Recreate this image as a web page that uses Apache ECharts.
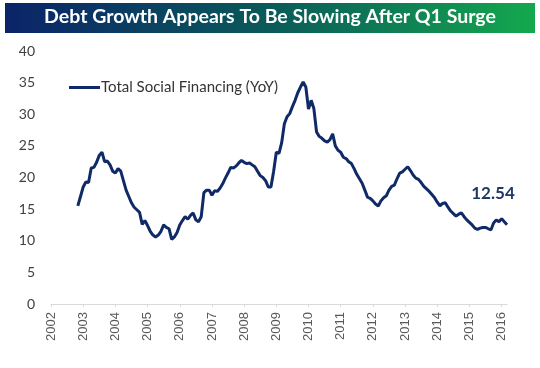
<!DOCTYPE html>
<html>
<head>
<meta charset="utf-8">
<script src="https://cdn.jsdelivr.net/npm/echarts@6/dist/echarts.min.js"></script>
<style>html,body{margin:0;padding:0;background:#fff}#c{width:540px;height:368px}</style>
</head>
<body>
<div id="c"></div>
<script>
var title = 'Debt Growth Appears To Be Slowing After Q1 Surge';
var seriesName = 'Total Social Financing (YoY)';
var startYear = 2002, startMonth = 11; // first observation: Nov 2002, monthly
var tsfValues = [
15.5,17.0,18.5,19.3,19.2,21.5,21.6,22.4,23.5,24.0,
22.5,22.6,22.0,21.0,20.7,21.4,21.0,19.5,18.0,17.0,
16.0,15.3,14.9,14.5,12.6,13.2,12.4,11.5,10.9,10.6,
10.9,11.5,12.5,12.1,11.9,10.2,10.6,11.3,12.5,13.2,
13.8,13.4,14.0,14.4,13.3,13.0,13.8,17.6,18.0,18.0,
17.2,17.9,17.8,18.3,19.0,19.9,20.7,21.6,21.5,21.8,
22.3,22.7,22.4,22.2,22.3,22.0,21.7,21.0,20.3,20.0,
19.5,18.5,18.5,21.0,24.0,23.8,25.5,28.5,29.6,30.1,
31.2,32.2,33.4,34.3,35.1,34.3,30.8,32.2,30.9,27.2,
26.5,26.2,25.8,25.6,26.0,26.9,25.0,24.3,24.0,23.2,
23.0,22.5,22.2,21.4,20.5,19.8,19.1,18.0,16.9,16.7,
16.3,15.8,15.5,16.3,16.8,17.1,18.0,18.6,18.8,19.8,
20.7,20.9,21.3,21.7,21.1,20.4,19.9,19.7,19.2,18.6,
18.2,17.8,17.3,16.8,16.1,15.5,15.9,16.0,15.3,14.7,
14.3,13.9,14.2,14.4,13.8,13.3,12.9,12.5,12.0,11.8,
12.0,12.1,12.1,11.9,11.7,12.8,13.3,13.0,13.5,13.0,
12.54
];
var yTicks = [0,5,10,15,20,25,30,35,40];
var xYears = [2002,2003,2004,2005,2006,2007,2008,2009,2010,2011,2012,2013,2014,2015,2016];
var lastLabel = '12.54';

var pts = tsfValues.map(function(v, i){
  var t = startYear + (startMonth - 1 + i) / 12;
  return [t, v];
});
var lastPt = pts[pts.length-1];

var chart = echarts.init(document.getElementById('c'), null, {renderer: 'canvas'});
chart.setOption({
  animation: false,
  backgroundColor: '#fff',
  graphic: [{
    type: 'rect', left: 5, top: 3, shape: {width: 530, height: 30},
    style: {fill: new echarts.graphic.LinearGradient(0, 0, 1, 0, [
      {offset: 0, color: '#0b2468'}, {offset: 0.5, color: '#0a5a5a'}, {offset: 1, color: '#14a84e'}])}
  }, {
    type: 'text', left: 'center', top: 7,
    style: {text: title, fill: '#ffffff', font: 'bold 19.5px Lato'}
  }],
  legend: {
    show: true, left: 64, top: 75, itemWidth: 31, itemHeight: 3, itemGap: 10,
    icon: 'rect',
    textStyle: {fontSize: 15, color: '#333', fontFamily: 'Lato', padding: [0,0,0,-4]},
    data: [seriesName]
  },
  grid: {left: 51, right: 540 - 507, top: 51, bottom: 64, containLabel: false},
  xAxis: {
    type: 'value', min: xYears[0], max: lastPt[0], interval: 1,
    axisLine: {show: true, lineStyle: {color: '#d9d9d9', width: 1}},
    axisTick: {show: true, length: 3, lineStyle: {color: '#d9d9d9'}},
    splitLine: {show: false},
    axisLabel: {rotate: 90, margin: 8, fontSize: 13, color: '#595959', fontFamily: 'Liberation Sans',
      showMaxLabel: false,
      formatter: function(v){ var r = Math.round(v); return Math.abs(v - r) < 1e-6 && xYears.indexOf(r) >= 0 ? String(r) : ''; }}
  },
  yAxis: {
    type: 'value', min: yTicks[0], max: yTicks[yTicks.length-1], interval: 5,
    axisLine: {show: false}, axisTick: {show: false}, splitLine: {show: false},
    axisLabel: {fontSize: 14, color: '#404040', margin: 16, fontFamily: 'Lato'}
  },
  series: [{
    name: seriesName, type: 'line', data: pts, showSymbol: false, symbol: 'none',
    lineStyle: {color: '#0f2a66', width: 3}, itemStyle: {color: '#0f2a66'},
    markPoint: {
      symbol: 'circle', symbolSize: 0, silent: true,
      data: [{coord: lastPt, value: lastLabel}],
      label: {show: true, formatter: lastLabel, position: 'inside', offset: [-14, -31],
        fontSize: 17, fontWeight: 'bold', color: '#1f3864', fontFamily: 'Lato'}
    }
  }]
});
</script>
</body>
</html>
